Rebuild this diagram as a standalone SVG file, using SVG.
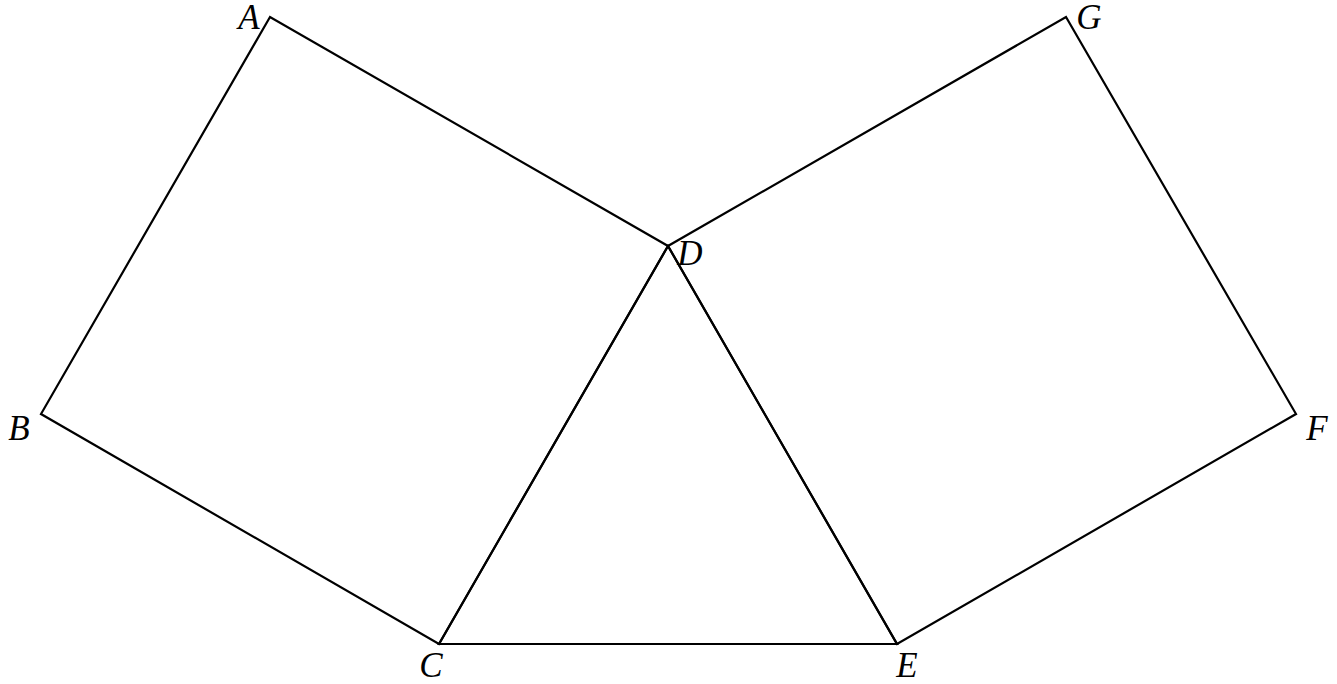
<svg xmlns="http://www.w3.org/2000/svg" width="1337" height="684" viewBox="0 0 1337 684">
<style>
.e{fill:none;stroke:#000;stroke-width:2.2;stroke-linejoin:miter}
.l{font-family:"Liberation Serif","DejaVu Serif",serif;font-style:italic;font-size:35px;fill:#000;text-anchor:middle}
</style>
<rect width="1337" height="684" fill="#fff"/>
<g id="figure">
<polygon class="e" points="270,17 41,414 439,644 668,246"/>
<polygon class="e" points="668,246 897,644 1296,414 1066,17"/>
<polygon class="e" points="439,644 668,246 897,644"/>
</g>
<g id="labels">
<text class="l" x="249" y="29">A</text>
<text class="l" x="19" y="440">B</text>
<text class="l" x="431" y="677">C</text>
<text class="l" x="690" y="265">D</text>
<text class="l" x="907" y="677">E</text>
<text class="l" x="1317" y="440">F</text>
<text class="l" x="1089" y="29">G</text>
</g>
</svg>
